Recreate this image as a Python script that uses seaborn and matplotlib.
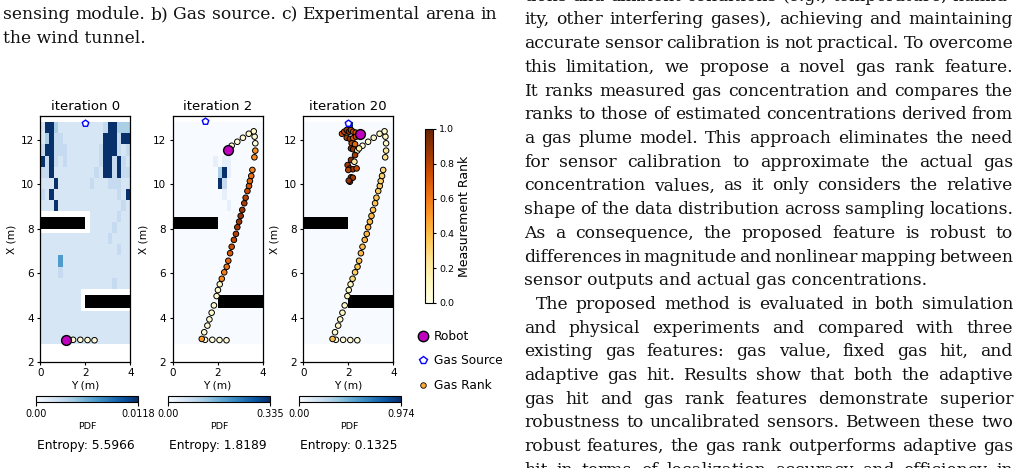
import numpy as np
import matplotlib
matplotlib.use("Agg")
import matplotlib.pyplot as plt
from matplotlib.patches import Rectangle
from matplotlib.lines import Line2D
from matplotlib.cm import ScalarMappable
from matplotlib.colors import Normalize
import seaborn as sns

W, H = 1020, 468

# ---------------- chart data ----------------
titles = ["iteration 0", "iteration 2", "iteration 20"]
entropies = ["Entropy: 5.5966", "Entropy: 1.8189", "Entropy: 0.1325"]
pdf_max = [0.0118, 0.335, 0.974]
pdf_max_labels = ["0.0118", "0.335", "0.974"]

source_x = [2.00, 1.43, 2.00]
source_y = [12.76, 12.85, 12.78]
robot_x = [1.13, 2.48, 2.52]
robot_y = [2.98, 11.53, 12.28]

obstacle_x = [0.0, 2.0]
obstacle_y = [7.98, 4.45]
obstacle_w = [2.0, 2.0]
obstacle_h = [0.55, 0.55]

# first measurements (bottom row)
start_x = [1.45, 1.77, 2.09, 2.40]
start_y = [3.00, 3.00, 2.99, 2.98]
start_rank = [0.05, 0.04, 0.05, 0.04]

# trajectory up the diagonal and the arc at the top
path_x = [1.30, 1.41, 1.55, 1.64, 1.74, 1.84, 1.96, 2.02, 2.10, 2.19,
          2.30, 2.41, 2.48, 2.56, 2.63, 2.73, 2.82, 2.88, 2.96, 3.03,
          3.10, 3.19, 3.25, 3.33, 3.40, 3.44, 3.50, 3.55, 3.64, 3.68,
          3.68, 3.65, 3.61, 3.39, 3.13, 2.88, 2.63]
path_y = [3.04, 3.34, 3.64, 3.92, 4.22, 4.55, 4.97, 5.24, 5.50, 5.75,
          6.04, 6.29, 6.56, 6.90, 7.19, 7.50, 7.77, 8.07, 8.32, 8.58,
          8.85, 9.15, 9.40, 9.70, 9.93, 10.15, 10.38, 10.65, 11.22, 11.52,
          11.85, 12.15, 12.39, 12.28, 12.10, 11.92, 11.74]
path_rank_2 = [0.50, 0.05, 0.06, 0.05, 0.07, 0.06, 0.08, 0.06, 0.10, 0.55,
               0.58, 0.62, 0.66, 0.70, 0.74, 0.78, 0.82, 0.85, 0.86, 0.88,
               0.86, 0.83, 0.80, 0.75, 0.70, 0.66, 0.62, 0.58, 0.55, 0.52,
               0.04, 0.06, 0.08, 0.07, 0.05, 0.04, 0.03]
path_rank_20 = [0.40, 0.08, 0.10, 0.08, 0.12, 0.10, 0.12, 0.10, 0.12, 0.30,
                0.34, 0.36, 0.38, 0.40, 0.40, 0.42, 0.42, 0.42, 0.40, 0.40,
                0.38, 0.38, 0.36, 0.35, 0.34, 0.33, 0.32, 0.30, 0.25, 0.22,
                0.08, 0.10, 0.10, 0.08, 0.06, 0.05, 0.05]

# measurements gathered around the source (iteration 20)
cluster_x = [1.72, 1.82, 1.93, 2.03, 2.12, 2.22, 2.33, 1.93, 2.07, 2.22,
             2.34, 2.15, 2.30, 2.12, 2.22, 2.40, 2.48, 2.30, 2.12, 2.27,
             1.97, 2.07, 2.20, 2.37, 2.00, 2.12, 2.20, 2.07, 2.02]
cluster_y = [12.28, 12.37, 12.45, 12.37, 12.45, 12.37, 12.33, 12.10, 12.05, 12.08,
             12.15, 11.85, 11.81, 11.62, 11.58, 11.52, 11.62, 11.32, 11.10, 11.02,
             10.87, 10.72, 10.68, 10.72, 10.65, 10.32, 10.30, 10.12, 10.17]
cluster_rank = [0.72, 0.80, 0.85, 0.90, 0.80, 0.72, 0.70, 0.82, 0.88, 0.70,
                0.75, 0.80, 0.65, 0.92, 0.88, 0.12, 0.15, 0.85, 0.90, 0.20,
                0.85, 0.92, 0.85, 0.75, 0.80, 0.92, 0.85, 0.92, 0.88]

# PDF grids: 20 cols (0.2 m) x 20 rows (0.5 m), top row first,
# hex level / 12 of the panel maximum, "." = cell not mapped
pdf_grid_0 = [
    "2cc422222222223cc444",
    "24c33222222222ccc3cc",
    "3cc33322222223ccc323",
    "c3c32322222223cc3c32",
    "33c22222222232cc3c33",
    "222c2222222322233322",
    "32c2222222222222232c",
    "222c2222222222222232",
    "...........222222322",
    "...........222223222",
    "22222222222222232222",
    "22222222222222222322",
    "22227222222222222222",
    "22223222222222222222",
    "22222222222222223222",
    "222222222...........",
    "222222222...........",
    "22222222222222222222",
    "22222222222222222222",
    "22222222222222222222",
]
pdf_grid_2 = [
    "00000000000000000000",
    "00000000000000000000",
    "00000000000000000000",
    "00000000010110000000",
    "00000000004c10000000",
    "0000000000c300000000",
    "00000000000100000000",
    "00000000000010000000",
] + ["00000000000000000000"] * 12
pdf_grid_20 = ["0000000000c000000000"] + ["00000000000000000000"] * 19

# surrounding paper text (first and last right-hand lines are cut by the crop)
left_lines = ["sensing module. b) Gas source. c) Experimental arena in",
              "the wind tunnel."]
right_lines = [
    "tions and ambient conditions (e.g., temperature, humid-",
    "ity, other interfering gases), achieving and maintaining",
    "accurate sensor calibration is not practical. To overcome",
    "this limitation, we propose a novel gas rank feature.",
    "It ranks measured gas concentration and compares the",
    "ranks to those of estimated concentrations derived from",
    "a gas plume model. This approach eliminates the need",
    "for sensor calibration to approximate the actual gas",
    "concentration values, as it only considers the relative",
    "shape of the data distribution across sampling locations.",
    "As a consequence, the proposed feature is robust to",
    "differences in magnitude and nonlinear mapping between",
    "sensor outputs and actual gas concentrations.",
    "The proposed method is evaluated in both simulation",
    "and physical experiments and compared with three",
    "existing gas features: gas value, fixed gas hit, and",
    "adaptive gas hit. Results show that both the adaptive",
    "gas hit and gas rank features demonstrate superior",
    "robustness to uncalibrated sensors. Between these two",
    "robust features, the gas rank outperforms adaptive gas",
    "hit in terms of localization accuracy and efficiency in",
]

# ---------------- style ----------------
sns.set_theme(style="ticks", rc={
    "axes.edgecolor": "black", "axes.linewidth": 0.9,
    "xtick.color": "black", "ytick.color": "black",
    "text.color": "black", "axes.labelcolor": "black",
    "xtick.major.size": 2.5, "ytick.major.size": 2.5,
    "xtick.major.width": 0.8, "ytick.major.width": 0.8,
    "xtick.major.pad": 2, "ytick.major.pad": 2,
})
plt.rcParams["font.family"] = ["DejaVu Sans"]

blues = sns.color_palette("Blues", as_cmap=True)
rank_cmap = sns.color_palette("YlOrBr", as_cmap=True)
MAGENTA = "#bf00bf"

fig = plt.figure(figsize=(W / 100, H / 100), dpi=100)


def box(x0, y0, w, h):
    # pixel box (top-left origin) -> figure fraction
    return [x0 / W, 1 - (y0 + h) / H, w / W, h / H]


def grid_values(rows, vmax):
    vals = [[np.nan if ch == "." else int(ch, 16) / 12 * vmax for ch in row] for row in rows]
    return np.ma.masked_invalid(np.array(vals[::-1]))


x_edges = np.linspace(0, 4, 21)
y_edges = np.linspace(2.8, 12.8, 21)

grids = [pdf_grid_0, pdf_grid_2, pdf_grid_20]
points = [
    (start_x, start_y, start_rank),
    (start_x + path_x, start_y + path_y, start_rank + path_rank_2),
    (start_x + path_x + cluster_x, start_y + path_y + cluster_y,
     start_rank + path_rank_20 + cluster_rank),
]
panel_left = [40.5, 172.5, 303.3]

for i in range(3):
    ax = fig.add_axes(box(panel_left[i], 116, 90, 246))
    ax.set_facecolor("white")
    mesh = ax.pcolormesh(x_edges, y_edges, grid_values(grids[i], pdf_max[i]),
                         cmap=blues, vmin=0, vmax=pdf_max[i], zorder=1)
    for ox, oy, ow, oh in zip(obstacle_x, obstacle_y, obstacle_w, obstacle_h):
        ax.add_patch(Rectangle((ox, oy), ow, oh, facecolor="black", edgecolor="none", zorder=2))

    px, py, pr = points[i]
    sns.scatterplot(x=px, y=py, hue=pr, palette=rank_cmap, hue_norm=(0, 1),
                    s=16, edgecolor="black", linewidth=0.7, legend=False,
                    ax=ax, zorder=3)
    ax.scatter([robot_x[i]], [robot_y[i]], s=50, c=MAGENTA, edgecolors="black",
               linewidths=1.0, zorder=5)
    ax.scatter([source_x[i]], [source_y[i]], s=24, marker="p", facecolors="white",
               edgecolors="blue", linewidths=1.0, zorder=6)

    ax.set_xlim(0, 4)
    ax.set_ylim(2, 13.08)
    ax.set_xticks([0, 2, 4])
    ax.set_yticks([2, 4, 6, 8, 10, 12])
    ax.tick_params(labelsize=7.5)
    ax.set_xlabel("Y (m)", fontsize=7.6, labelpad=1.5)
    ax.set_ylabel("X (m)", fontsize=7.6, labelpad=3)
    ax.set_title(titles[i], fontsize=9.5, pad=4)

    cax = fig.add_axes(box(panel_left[i] - 4.5, 396, 102, 6))
    cb = fig.colorbar(mesh, cax=cax, orientation="horizontal")
    cb.set_ticks([0, pdf_max[i]])
    cb.set_ticklabels(["0.00", pdf_max_labels[i]])
    cb.ax.tick_params(labelsize=7, length=3, pad=2)
    cb.outline.set_linewidth(0.8)
    cb.set_label("PDF", fontsize=6.8, labelpad=2)

    fig.text((panel_left[i] + 45) / W, 1 - 445 / H, entropies[i],
             ha="center", va="center", fontsize=8.8)

# measurement rank colorbar
rax = fig.add_axes(box(425, 129, 8, 174))
rcb = fig.colorbar(ScalarMappable(norm=Normalize(0, 1), cmap=rank_cmap), cax=rax)
rcb.set_ticks([0, 0.2, 0.4, 0.6, 0.8, 1.0])
rcb.set_ticklabels(["0.0", "0.2", "0.4", "0.6", "0.8", "1.0"])
rcb.ax.tick_params(labelsize=6.8, length=2.5, pad=2)
rcb.outline.set_linewidth(0.8)
rcb.set_label("Measurement Rank", fontsize=9, labelpad=3)

handles = [
    Line2D([], [], ls="", marker="o", ms=7.5, mfc=MAGENTA, mec="black", mew=1.0, label="Robot"),
    Line2D([], [], ls="", marker="p", ms=5.5, mfc="white", mec="blue", mew=1.0, label="Gas Source"),
    Line2D([], [], ls="", marker="o", ms=4.0, mfc=rank_cmap(0.45), mec="black", mew=0.6, label="Gas Rank"),
]
fig.legend(handles=handles, loc="center left", bbox_to_anchor=(411 / W, 1 - 361 / H),
           frameon=False, borderpad=0, handlelength=1.0, handletextpad=0.4,
           labelspacing=0.95, fontsize=8.7)

# ---------------- paper text ----------------
SERIF = "DejaVu Serif"
renderer = fig.canvas.get_renderer()


def word_widths(words, size):
    out = []
    for w in words:
        t = fig.text(0, 0, w, fontsize=size, family=SERIF)
        out.append(t.get_window_extent(renderer).width)
        t.remove()
    return out


# one text size for every line: the largest that lets each fully visible
# justified line keep at least a small gap between its words
justified = [(left_lines[0], 494)] + [
    (ln, 489 - (12 if ln.startswith("The proposed") else 0))
    for ln in right_lines[1:-1] if not ln.endswith("concentrations.")]
scale = 1.0
for ln, width in justified:
    words = ln.split()
    need = sum(word_widths(words, 12.8)) + 3.5 * (len(words) - 1)
    scale = min(scale, width / need)
TSIZE = 12.8 * scale


def put_line(text, x0, x1, y_base, justify=True):
    if not justify:
        fig.text(x0 / W, 1 - y_base / H, text, ha="left", va="baseline",
                 fontsize=TSIZE, family=SERIF, color="#111111")
        return
    words = text.split()
    widths = word_widths(words, TSIZE)
    gap = max(2.0, (x1 - x0 - sum(widths)) / (len(words) - 1))
    x = x0
    for w, wd in zip(words, widths):
        fig.text(x / W, 1 - y_base / H, w, ha="left", va="baseline",
                 fontsize=TSIZE, family=SERIF, color="#111111")
        x += wd + gap


put_line(left_lines[0], 3, 497, 19)
put_line(left_lines[1], 3, 497, 43, justify=False)

for k, line in enumerate(right_lines):
    yb = -4.2 + 23.7 * k + 5
    x0 = 536 if line.startswith("The proposed") else 524
    put_line(line, x0, 1013, yb, justify=not line.endswith("concentrations."))

fig.savefig("out.png", dpi=100)
